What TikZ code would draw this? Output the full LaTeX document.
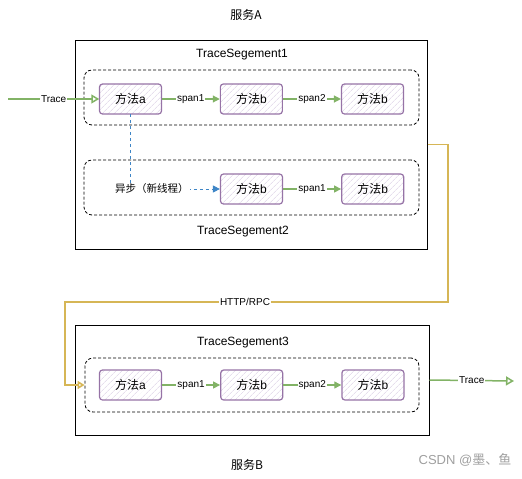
\documentclass[tikz,border=0pt]{standalone}
\usepackage{fontspec}
\setmainfont{Liberation Sans}
\newfontfamily\cjk{Noto Sans CJK SC}
\usetikzlibrary{positioning,arrows.meta,patterns.meta}
\definecolor{methodline}{HTML}{9673A6}
\definecolor{methodhatch}{HTML}{D9CCE3}
\definecolor{spangreen}{HTML}{82B366}
\definecolor{rpcyellow}{HTML}{D6B656}
\definecolor{asyncblue}{HTML}{3D85C6}

\begin{document}
\begin{tikzpicture}[x=1pt,y=-1pt,font=\fontsize{11}{13}\selectfont,
	method/.style={draw=methodline,line width=1.2pt,rounded corners=3pt,
		minimum width=62pt,minimum height=30pt,font=\fontsize{12}{14}\selectfont,
		pattern={Lines[angle=45,distance=4pt,line width=0.5pt]},pattern color=methodhatch},
	service/.style={draw,line width=1pt,inner sep=0pt},
	segment/.style={draw=black,line width=0.8pt,dash pattern=on 3pt off 2pt,rounded corners=8pt,inner sep=0pt},
	title/.style={font=\fontsize{12}{14}\selectfont},
	elabel/.style={fill=white,inner sep=1pt,text=black,font=\fontsize{10}{12}\selectfont},
	span/.style={spangreen,line width=1.2pt,-{Triangle[length=7pt,width=7pt]}},
	trace/.style={spangreen,line width=1.5pt,-{Triangle[open,length=8pt,width=9pt]}},
	rpc/.style={rpcyellow,line width=1.6pt,-{Triangle[open,length=7pt,width=8pt]}},
	async/.style={asyncblue,line width=0.9pt,dashed,-{Triangle[length=7pt,width=7pt]}},
]
\useasboundingbox (0,0) rectangle (522,479);
% service A
\node[title] (svcAlabel) at (246,15) {\cjk 服务A};
\node[service,minimum width=352pt,minimum height=209pt] (svcA) at (251,144.5) {};
\node[title] (seg1label) at (242,55) {TraceSegement1};
\node[segment,minimum width=335pt,minimum height=55pt] (seg1) at (251.5,97.5) {};
\node[segment,minimum width=335pt,minimum height=55pt] (seg2) at (251.5,187.5) {};
\node[title] (seg2label) at (243,232) {TraceSegement2};
% methods, first segment
\node[method] (m1a) at (130.5,99) {{\cjk 方法}a};
\node[method,right=58pt of m1a] (m1b) {{\cjk 方法}b};
\node[method,right=58pt of m1b] (m1c) {{\cjk 方法}b};
% methods, second segment
\node[method] (m2b) at (251.5,189) {{\cjk 方法}b};
\node[method,right=58pt of m2b] (m2c) {{\cjk 方法}b};
% service B
\node[service,minimum width=354pt,minimum height=110pt] (svcB) at (252,380) {};
\node[title] (seg3label) at (243,343) {TraceSegement3};
\node[segment,minimum width=334pt,minimum height=54pt] (seg3) at (252,385) {};
\node[method] (m3a) at (130.5,385) {{\cjk 方法}a};
\node[method,right=58pt of m3a] (m3b) {{\cjk 方法}b};
\node[method,right=58pt of m3b] (m3c) {{\cjk 方法}b};
\node[title] (svcBlabel) at (247,465) {\cjk 服务B};
\node[text=gray!75,font=\fontsize{13}{15}\selectfont] (mark) at (465,460) {CSDN @{\cjk 墨、鱼}};
% free ends
\coordinate (tracein) at (8,99);
\coordinate (traceout) at (514,381);
\coordinate (rpcright) at (448,302);
\coordinate (rpcleft) at (65,302);
% connectors
\draw[trace] (tracein) -- node[elabel]{Trace} (m1a.west);
\draw[span] (m1a) -- node[elabel]{span1} (m1b);
\draw[span] (m1b) -- node[elabel]{span2} (m1c);
\draw[async] (m1a.south) |- node[elabel,pos=0.62,font=\fontsize{10.5}{12}\selectfont]{\cjk 异步（新线程）} (m2b.west);
\draw[span] (m2b) -- node[elabel]{span1} (m2c);
\draw[rpc] (svcA.east) -| (rpcright) -- node[elabel,pos=0.53]{HTTP/RPC} (rpcleft) |- (seg3.west);
\draw[span] (m3a) -- node[elabel]{span1} (m3b);
\draw[span] (m3b) -- node[elabel]{span2} (m3c);
\draw[trace] (svcB.east) -- node[elabel]{Trace} (traceout);
\end{tikzpicture}
\end{document}
